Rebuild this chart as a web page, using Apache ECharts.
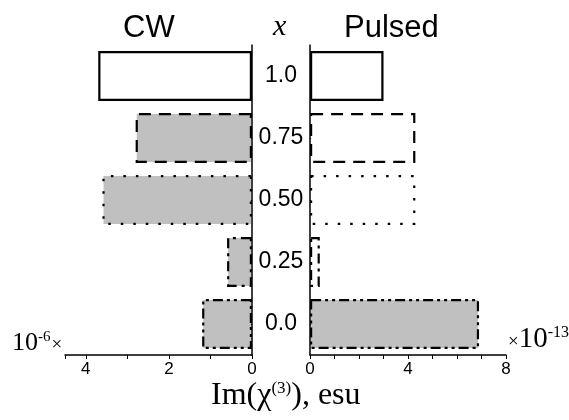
<!DOCTYPE html>
<html>
<head>
<meta charset="utf-8">
<script src="https://cdn.jsdelivr.net/npm/echarts@6/dist/echarts.min.js"></script>
<style>
html, body { margin: 0; padding: 0; background: #fff; }
#chart { width: 569px; height: 420px; }
</style>
</head>
<body>
<div id="chart"></div>
<script>
// data, bottom to top
const categories = ['0.0', '0.25', '0.50', '0.75', '1.0']
const cwValues = [1.2, 0.6, 3.6, 2.8, 3.7]        // x 10^-6 esu
const pulsedValues = [6.9, 0.4, 4.3, 4.3, 3.0]    // x 10^-13 esu
const lineKinds = ['dashdotdot', 'dashdot', 'dotted', 'dashed', 'solid']
const cwFilled = [true, true, true, true, false]
const pulsedFilled = [true, false, false, false, false]
const cwTicks = [0, 2, 4]
const pulsedTicks = [0, 4, 8]

const dashes = {
    solid: 'solid',
    dashed: [12, 8],
    dotted: [2.5, 10],
    dashdot: [10, 5, 3, 5],
    dashdotdot: [10, 4, 3, 4, 3, 4]
}
const sans = 'Liberation Sans, Arial, sans-serif'
const serif = 'Liberation Serif, Times New Roman, serif'

let items = (vals, filled) => vals.map((v, i) => ({
    value: v,
    itemStyle: {
        color: filled[i] ? '#c0c0c0' : '#fff',
        borderColor: '#000',
        borderWidth: 2.2,
        borderType: dashes[lineKinds[i]]
    }
}))

let xAxisBase = (ticks) => ({
    type: 'value',
    min: 0,
    interval: 1,
    axisLine: { show: true, onZero: false, lineStyle: { color: '#000', width: 1.5 } },
    axisTick: { show: true, length: 4, lineStyle: { color: '#000' } },
    splitLine: { show: false },
    axisLabel: {
        color: '#000', fontSize: 17, fontFamily: sans, margin: 6,
        formatter: v => ticks.includes(v) ? String(v) : ''
    }
})

let chart = echarts.init(document.getElementById('chart'))
chart.setOption({
    animation: false,
    backgroundColor: '#fff',
    grid: [
        { left: 65, right: 317, top: 45, bottom: 65 },
        { left: 310, right: 63, top: 45, bottom: 65 }
    ],
    xAxis: [
        Object.assign(xAxisBase(cwTicks), { gridIndex: 0, max: 4.5, inverse: true }),
        Object.assign(xAxisBase(pulsedTicks), { gridIndex: 1, max: 8 })
    ],
    yAxis: [
        {
            type: 'category', gridIndex: 0, position: 'right', data: categories,
            axisLine: { show: true, onZero: false, lineStyle: { color: '#000', width: 1.5 } },
            axisTick: { show: true, inside: true, alignWithLabel: true, length: 5, lineStyle: { color: '#000' } },
            axisLabel: { color: '#000', fontSize: 23, fontFamily: sans, margin: 29, align: 'center' }
        },
        {
            type: 'category', gridIndex: 1, position: 'left', data: categories,
            axisLine: { show: true, onZero: false, lineStyle: { color: '#000', width: 1.5 } },
            axisTick: { show: true, inside: true, alignWithLabel: true, length: 5, lineStyle: { color: '#000' } },
            axisLabel: { show: false }
        }
    ],
    series: [
        { type: 'bar', xAxisIndex: 0, yAxisIndex: 0, barWidth: 50, data: items(cwValues, cwFilled) },
        { type: 'bar', xAxisIndex: 1, yAxisIndex: 1, barWidth: 50, data: items(pulsedValues, pulsedFilled) }
    ],
    graphic: [
        { type: 'text', left: 123, top: 13, style: { text: 'CW', font: '31px ' + sans, fill: '#000' } },
        { type: 'text', left: 344, top: 13, style: { text: 'Pulsed', font: '31px ' + sans, fill: '#000' } },
        { type: 'text', left: 273, top: 12, style: { text: 'x', font: 'italic 30px ' + serif, fill: '#000' } },
        {
            type: 'text', left: 12, top: 330,
            style: {
                text: '{a|10}{s|-6}{m|×}',
                rich: {
                    a: { fontFamily: serif, fontSize: 26, color: '#000' },
                    s: { fontFamily: serif, fontSize: 15, color: '#000', verticalAlign: 'top', padding: [0, 0, 12, 0] },
                    m: { fontFamily: serif, fontSize: 19, color: '#000', padding: [4, 0, 0, 1] }
                }
            }
        },
        {
            type: 'text', left: 508, top: 325,
            style: {
                text: '{m|×}{a|10}{s|-13}',
                rich: {
                    a: { fontFamily: serif, fontSize: 29, color: '#000' },
                    s: { fontFamily: serif, fontSize: 16, color: '#000', verticalAlign: 'top', padding: [0, 0, 12, 0] },
                    m: { fontFamily: serif, fontSize: 19, color: '#000', padding: [6, 0, 0, 0] }
                }
            }
        },
        {
            type: 'text', left: 211, top: 380,
            style: {
                text: '{a|Im(χ}{s|(3)}{a|), esu}',
                rich: {
                    a: { fontFamily: serif, fontSize: 32, color: '#000' },
                    s: { fontFamily: serif, fontSize: 17, color: '#000', verticalAlign: 'top', padding: [0, 0, 14, 0] }
                }
            }
        }
    ]
})
</script>
</body>
</html>
